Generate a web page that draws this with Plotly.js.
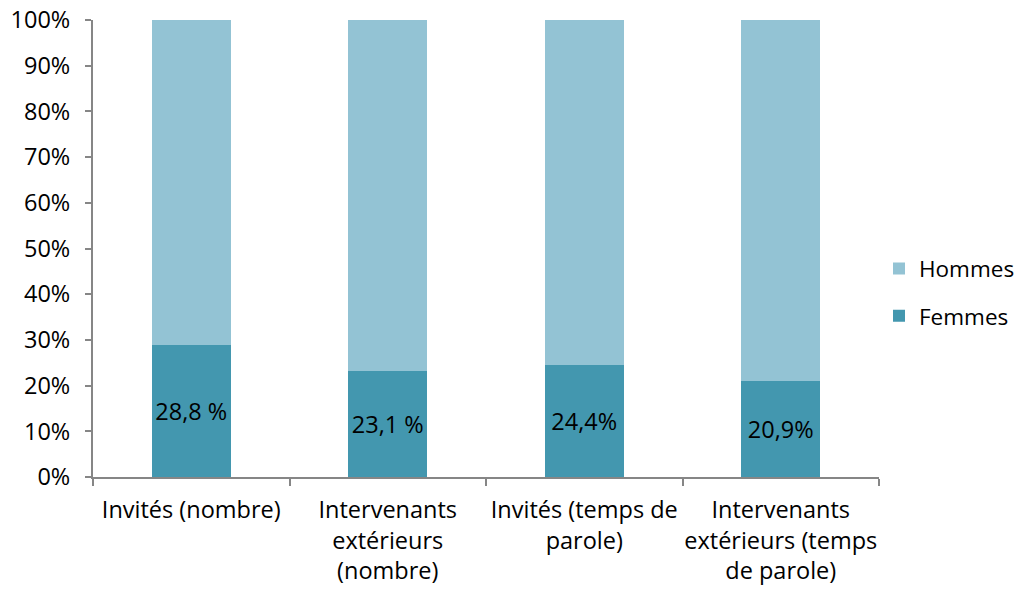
<!DOCTYPE html>
<html>
<head>
<meta charset="utf-8">
<script src="https://cdn.plot.ly/plotly-3.0.1.min.js"></script>
<style>html,body{margin:0;padding:0;background:#fff;}#chart{width:1021px;height:592px;}</style>
</head>
<body>
<div id="chart"></div>
<script>
const categories = ["Invités (nombre)", "Intervenants<br>extérieurs<br>(nombre)", "Invités (temps de<br>parole)", "Intervenants<br>extérieurs (temps<br>de parole)"];
const femmes = [28.8, 23.1, 24.4, 20.9];
const hommes = [71.2, 76.9, 75.6, 79.1];
const femmesLabels = ["28,8 %", "23,1 %", "24,4%", "20,9%"];
const yTickVals = [0, 10, 20, 30, 40, 50, 60, 70, 80, 90, 100];
const yTickText = ["0%", "10%", "20%", "30%", "40%", "50%", "60%", "70%", "80%", "90%", "100%"];

const fontFam = "'Open Sans', sans-serif";
const fs = 23.5;
const traces = [
  {type: "bar", name: "Femmes", x: categories, y: femmes, marker: {color: "#4397AF"},
   text: femmesLabels, texttemplate: "%{text}", textposition: "inside", insidetextanchor: "middle",
   textangle: 0, constraintext: "none", cliponaxis: false,
   textfont: {family: fontFam, size: fs, color: "#000"}, legendgroup: "f", legendrank: 2, hoverinfo: "skip"},
  {type: "bar", name: "Hommes", x: categories, y: hommes, marker: {color: "#93C3D4"},
   legendgroup: "h", legendrank: 1, hoverinfo: "skip"}
];
const layout = {
  width: 1021, height: 592,
  margin: {l: 93, r: 142, t: 20, b: 115, autoexpand: false},
  barmode: "stack", bargap: 0.6,
  paper_bgcolor: "#fff", plot_bgcolor: "#fff",
  font: {family: fontFam, size: fs, color: "#000"},
  showlegend: true,
  legend: {x: 1.0, xanchor: "left", y: 0.404, yanchor: "middle", traceorder: "grouped", tracegroupgap: 15,
           font: {family: fontFam, size: 22.5, color: "#000"}, itemwidth: 30},
  xaxis: {type: "category", showline: true, linecolor: "#868686", linewidth: 2, ticks: "outside", tickson: "boundaries",
          ticklen: 7, tickcolor: "#868686", tickwidth: 2, showgrid: false, zeroline: false, ticklabelstandoff: 11,
          tickangle: 0, automargin: false, tickfont: {family: fontFam, size: fs, color: "#000"}},
  yaxis: {range: [0, 100], tickvals: yTickVals, ticktext: yTickText, showline: true, linecolor: "#868686", linewidth: 2,
          ticks: "outside", ticklen: 6, tickcolor: "#868686", tickwidth: 2, showgrid: false, zeroline: false,
          automargin: false, ticklabelstandoff: 10, tickfont: {family: fontFam, size: fs, color: "#000"}}
};
Plotly.newPlot("chart", traces, layout, {displayModeBar: false, staticPlot: true});
</script>
</body>
</html>
